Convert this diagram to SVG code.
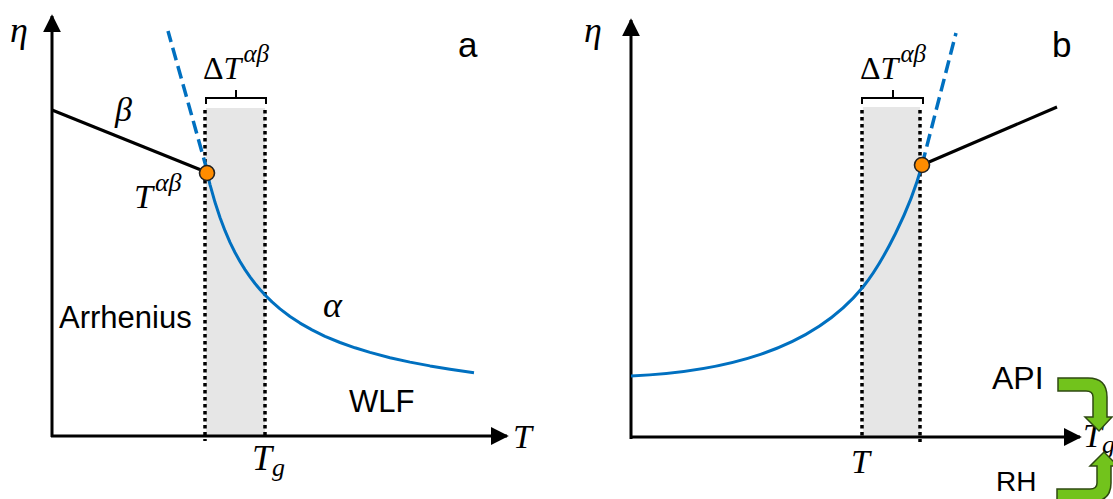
<svg xmlns="http://www.w3.org/2000/svg" width="1113" height="499" viewBox="0 0 1113 499">
<defs>
<style>
.axis{stroke:#000;stroke-width:3;fill:none}
.blk{stroke:#000;stroke-width:3;fill:none}
.blue{stroke:#0070c0;stroke-width:3;fill:none;stroke-linejoin:round}
.dash{stroke:#0070c0;stroke-width:3.5;fill:none;stroke-dasharray:13 6}
.dot{stroke:#000;stroke-width:3.5;fill:none;stroke-dasharray:3.5 3.5}
.brk{stroke:#000;stroke-width:2;fill:none}
.shade{fill:#e6e6e6}
.pt{fill:#ff8c00;stroke:#222;stroke-width:1.6}
.sans{font-family:"Liberation Sans",Arial,sans-serif;fill:#000}
.math{font-family:"Liberation Serif","Times New Roman",serif;font-style:italic;fill:#000}
.up{font-family:"Liberation Serif","Times New Roman",serif;fill:#000}
.green{fill:#72c31c;stroke:#2f4a12;stroke-width:1.5}
</style>
<marker id="ah" viewBox="0 0 10 10" refX="9" refY="5" markerWidth="6" markerHeight="6" markerUnits="strokeWidth" orient="auto">
<path d="M0,0 L10,5 L0,10 z" fill="#000"/>
</marker>
</defs>

<!-- Panel a -->
<g id="panel-a">
<rect class="shade" x="206" y="108" width="59" height="327"/>
<g id="axes-a">
<line class="axis" x1="52" y1="437" x2="52" y2="16" marker-end="url(#ah)"/>
<line class="axis" x1="51" y1="436" x2="507" y2="436" marker-end="url(#ah)"/>
</g>
<g id="dotted-a">
<line class="dot" x1="205" y1="110" x2="205" y2="441"/>
<line class="dot" x1="265" y1="110" x2="265" y2="439"/>
</g>
<path id="bracket-a" class="brk" d="M206,104 L206,98 L266,98 L266,104 M236,98 L236,90"/>
<g id="curves-a">
<line class="blk" x1="52" y1="110" x2="206" y2="172"/>
<line class="dash" x1="207" y1="170" x2="168" y2="31"/>
<path class="blue" d="M207,172.4 L210,184.6 L215,202.3 L220,217.5 L225,230.7 L230,242.3 L235,252.5 L240,261.5 L245,269.6 L250,276.9 L255,283.5 L260,289.5 L265,295 L272,301.9 L280,308.9 L290,316.5 L300,323.1 L312,329.9 L325,336.3 L340,342.5 L355,347.8 L370,352.4 L390,357.7 L410,362.1 L430,365.9 L450,369.2 L474,372.7"/>
<circle class="pt" cx="207" cy="173" r="7.5"/>
</g>
<g id="labels-a">
<text class="math" x="10" y="42" font-size="36">η</text>
<text class="sans" x="458" y="57" font-size="35">a</text>
<text class="math" x="115" y="121" font-size="34">β</text>
<text class="math" x="134" y="208" font-size="34">T<tspan font-size="26" dy="-17" dx="2">αβ</tspan></text>
<text class="up" x="203" y="79" font-size="32">Δ<tspan class="math">T</tspan><tspan class="math" font-size="25" dy="-17" dx="2">αβ</tspan></text>
<text class="math" x="323" y="317" font-size="36">α</text>
<text class="sans" x="59" y="328" font-size="31">Arrhenius</text>
<text class="sans" x="349" y="412" font-size="31">WLF</text>
<text class="math" x="513" y="448" font-size="34">T</text>
<text class="math" x="252" y="470" font-size="36">T<tspan font-size="26" dy="6">g</tspan></text>
</g>
</g>

<!-- Panel b -->
<g id="panel-b">
<rect class="shade" x="863" y="107" width="57" height="329"/>
<g id="axes-b">
<line class="axis" x1="631" y1="439" x2="631" y2="20" marker-end="url(#ah)"/>
<line class="axis" x1="630" y1="437" x2="1080" y2="437" marker-end="url(#ah)"/>
</g>
<g id="dotted-b">
<line class="dot" x1="862" y1="110" x2="862" y2="437"/>
<line class="dot" x1="920" y1="110" x2="920" y2="442"/>
</g>
<path id="bracket-b" class="brk" d="M862,104 L862,98 L923,98 L923,104 M893,98 L893,90"/>
<g id="curves-b">
<line class="blk" x1="922" y1="165" x2="1057" y2="107"/>
<line class="dash" x1="922" y1="165" x2="956" y2="33"/>
<path class="blue" d="M631,376 C720,372 810,352 863,287 C883,262 910,210 922,165"/>
<circle class="pt" cx="922" cy="165" r="7.5"/>
</g>
<g id="labels-b">
<text class="math" x="584" y="42" font-size="36">η</text>
<text class="sans" x="1052" y="57" font-size="35">b</text>
<text class="up" x="860" y="79" font-size="32">Δ<tspan class="math">T</tspan><tspan class="math" font-size="25" dy="-17" dx="2">αβ</tspan></text>
<text class="math" x="851" y="473" font-size="34">T</text>
<text class="math" x="1083" y="447" font-size="34">T<tspan font-size="26" dy="6">g</tspan></text>
<text class="sans" x="992" y="389" font-size="32">API</text>
<text class="sans" x="996" y="491" font-size="28">RH</text>
</g>
<g id="arrow-api">
<path class="green" d="M1058,378 L1088,378 Q1107,378 1107,397 L1107,417 L1112,417 L1099,431 L1085,417 L1093,417 L1093,397 Q1093,391 1086,391 L1058,391 Z"/>
</g>
<g id="arrow-rh">
<path class="green" d="M1057,502 L1090,502 Q1111,502 1111,483 L1111,466 L1118,466 L1104,452 L1090,466 L1097,466 L1097,483 Q1097,489 1090,489 L1057,489 Z"/>
</g>
</g>
</svg>
